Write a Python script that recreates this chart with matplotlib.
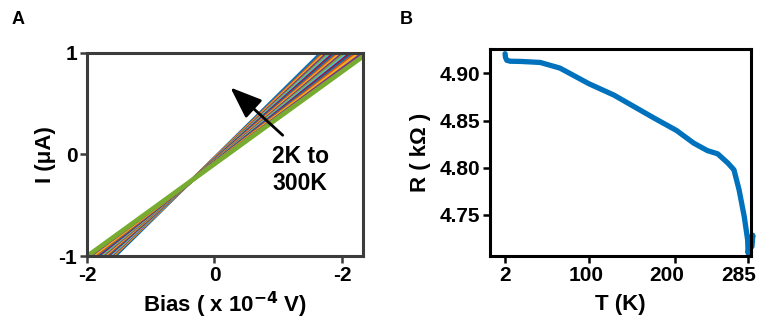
import matplotlib
matplotlib.use("Agg")
import matplotlib.pyplot as plt
import matplotlib.transforms as mtransforms
import numpy as np

plt.rcParams['font.family'] = ['Liberation Sans', 'DejaVu Sans']
plt.rcParams['font.weight'] = 'bold'

# ---- Panel A: I-V sweeps at temperatures between 2 K and 300 K ----
bias = [-2.6, 2.6]  # sweep end points (x 1e-4 V)
# conductance of each sweep (uA per 1e-4 V) and its zero-current bias
slopes = [0.619, 0.605, 0.597, 0.588, 0.579, 0.571, 0.562, 0.553, 0.545, 0.537,
          0.528, 0.520, 0.511, 0.503, 0.494, 0.486, 0.477, 0.466, 0.455]
zero_bias = [0.055, 0.062, 0.070, 0.078, 0.086, 0.094, 0.100, 0.108, 0.116, 0.124,
             0.132, 0.140, 0.148, 0.156, 0.164, 0.172, 0.180, 0.190, 0.205]
iv_xticks = [-2, 0, 2]
iv_xticklabels = ['-2', '0', '-2']
iv_yticks = [-1, 0, 1]
iv_yticklabels = ['-1', '0', '1']

# ---- Panel B: resistance vs temperature ----
temp_K = [2, 2.5, 4, 8, 20, 43, 66, 100, 129, 152, 176, 202, 222, 238, 250,
          262, 269, 275, 281, 285, 285.5, 286, 288, 290, 291, 290]
res_kohm = [4.921, 4.917, 4.914, 4.913, 4.9128, 4.9117, 4.9057, 4.889, 4.877,
            4.865, 4.8525, 4.8394, 4.826, 4.818, 4.8146, 4.8047, 4.7976,
            4.7763, 4.748, 4.723, 4.709, 4.712, 4.726, 4.722, 4.728, 4.716]
rt_xticks = [2, 100, 200, 285]
rt_yticks = [4.75, 4.80, 4.85, 4.90]

matlab_colors = ['#0072BD', '#D95319', '#EDB120', '#7E2F8E',
                 '#77AC30', '#4DBEEE', '#A2142F']

W, H = 759, 323
fig = plt.figure(figsize=(W / 100, H / 100), dpi=100)

TICK_FS = 15
LABEL_FS = 16

# Panel A
axA = fig.add_axes([87 / W, (H - 256) / H, (363 - 87) / W, (256 - 53) / H])
n = len(slopes)
for i, (g, v0) in enumerate(zip(slopes, zero_bias)):
    v = np.array(bias)
    axA.plot(v, g * (v - v0), color=matlab_colors[i % 7],
             lw=3.4 if i == n - 1 else 2.5, solid_capstyle='butt')
axA.set_xlim(-2, 2.33)
axA.set_ylim(-1, 1)
axA.set_xticks(iv_xticks)
axA.set_xticklabels(iv_xticklabels)
axA.set_yticks(iv_yticks)
axA.set_yticklabels(iv_yticklabels)
for s in axA.spines.values():
    s.set_linewidth(2.2)
    s.set_color('#3c3c3c')
axA.tick_params(direction='out', length=5, width=1.8, color='#3c3c3c',
                labelsize=TICK_FS, pad=2)
axA.set_xlabel('Bias ( x 10$^{\\mathbf{-4}}$ V)', fontsize=LABEL_FS,
               fontweight='bold', labelpad=4)
axA.set_ylabel('I (μA)', fontsize=LABEL_FS, fontweight='bold', labelpad=2)
axA.annotate('', xy=(0.25, 0.66), xytext=(1.07, 0.19),
             arrowprops=dict(arrowstyle='-|>,head_length=0.65,head_width=0.25',
                             lw=2.0, color='black', mutation_scale=30,
                             shrinkA=0, shrinkB=0))
axA.text(0.91, -0.15, '2K to\n300K', fontsize=16.5, fontweight='bold',
         ha='left', va='center', linespacing=1.2)

# Panel B
axB = fig.add_axes([490 / W, (H - 256) / H, (751 - 490) / W, (256 - 49) / H])
axB.plot(temp_K, res_kohm, color='#0072BD', lw=3.8, clip_on=False,
         solid_joinstyle='round', solid_capstyle='round')
axB.set_xlim(-15.6, 288.9)
axB.set_ylim(4.706, 4.926)
axB.set_xticks(rt_xticks)
axB.set_yticks(rt_yticks)
axB.set_yticklabels([f'{t:.2f}' for t in rt_yticks])
for s in axB.spines.values():
    s.set_linewidth(2.2)
    s.set_color('black')
axB.tick_params(direction='out', length=5, width=1.8, labelsize=TICK_FS, pad=2)
axB.set_xlabel('T (K)', fontsize=LABEL_FS, fontweight='bold', labelpad=7)
axB.set_ylabel('R ( kΩ )', fontsize=LABEL_FS, fontweight='bold', labelpad=6)

# nudge the wider temperature labels a little to the left
fig.canvas.draw()
shifts_px = [0, -3, -8, -9]
for lab, dx in zip(axB.get_xticklabels(), shifts_px):
    lab.set_transform(lab.get_transform() +
                      mtransforms.ScaledTranslation(dx / 100, 0, fig.dpi_scale_trans))

fig.text(12 / W, 1 - 19 / H, 'A', fontsize=13, fontweight='bold', va='center')
fig.text(400 / W, 1 - 19 / H, 'B', fontsize=13, fontweight='bold', va='center')

fig.savefig('out.png', dpi=100)
